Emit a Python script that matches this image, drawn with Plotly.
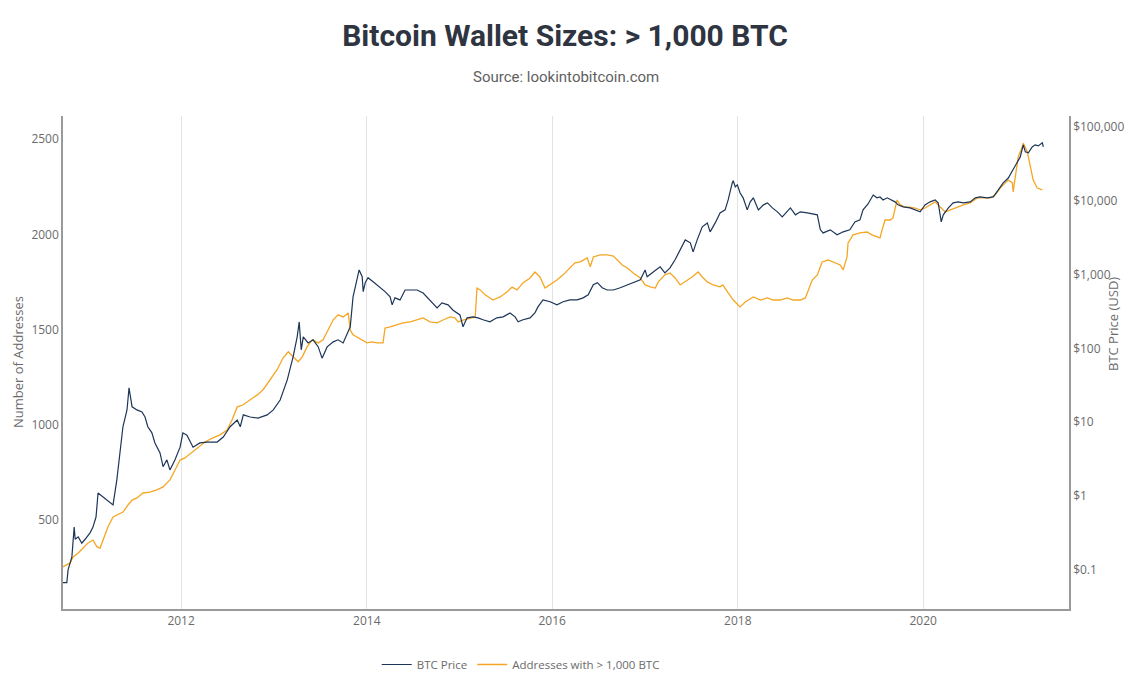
import plotly.graph_objects as go

# BTC price (USD)
price_dates = [
    "2010-09-19", "2010-10-08", "2010-10-13", "2010-10-28", "2010-11-06", "2010-11-10", "2010-11-22",
    "2010-12-06", "2010-12-19", "2011-01-08", "2011-01-19", "2011-01-31", "2011-02-08", "2011-02-27",
    "2011-03-27", "2011-04-08", "2011-04-23", "2011-05-05", "2011-05-17", "2011-06-02", "2011-06-10",
    "2011-06-22", "2011-07-11", "2011-07-31", "2011-08-12", "2011-08-23", "2011-09-08", "2011-09-20",
    "2011-10-10", "2011-10-22", "2011-11-06", "2011-11-18", "2011-12-08", "2011-12-28", "2012-01-08",
    "2012-01-24", "2012-02-17", "2012-03-15", "2012-04-12", "2012-05-22", "2012-06-15", "2012-07-12",
    "2012-08-09", "2012-08-21", "2012-09-02", "2012-09-29", "2012-10-30", "2012-12-05", "2012-12-29",
    "2013-01-25", "2013-02-22", "2013-03-17", "2013-04-02", "2013-04-10", "2013-04-18", "2013-04-26",
    "2013-05-15", "2013-06-04", "2013-06-24", "2013-07-09", "2013-07-29", "2013-08-22", "2013-09-10",
    "2013-09-30", "2013-10-16", "2013-10-28", "2013-11-08", "2013-11-24", "2013-12-02", "2013-12-14",
    "2013-12-18", "2013-12-26", "2014-01-06", "2014-01-26", "2014-02-23", "2014-03-14", "2014-04-03",
    "2014-04-11", "2014-04-22", "2014-05-12", "2014-06-01", "2014-06-21", "2014-07-18", "2014-08-11",
    "2014-09-07", "2014-10-05", "2014-10-24", "2014-11-17", "2014-12-07", "2015-01-03", "2015-01-15",
    "2015-01-31", "2015-02-23", "2015-03-15", "2015-04-04", "2015-05-01", "2015-05-28", "2015-06-22",
    "2015-07-19", "2015-08-08", "2015-08-20", "2015-09-08", "2015-10-06", "2015-10-25", "2015-11-06",
    "2015-11-26", "2015-12-24", "2016-01-20", "2016-02-13", "2016-03-11", "2016-04-08", "2016-05-02",
    "2016-05-22", "2016-06-11", "2016-06-27", "2016-07-16", "2016-08-05", "2016-08-29", "2016-09-25",
    "2016-10-23", "2016-11-15", "2016-12-13", "2017-01-01", "2017-01-09", "2017-02-02", "2017-03-01",
    "2017-03-20", "2017-04-09", "2017-04-29", "2017-05-19", "2017-06-08", "2017-06-28", "2017-07-09",
    "2017-07-25", "2017-08-14", "2017-09-03", "2017-09-14", "2017-10-04", "2017-10-23", "2017-11-12",
    "2017-11-24", "2017-12-10", "2017-12-14", "2017-12-22", "2017-12-30", "2018-01-10", "2018-01-22",
    "2018-02-07", "2018-02-19", "2018-03-03", "2018-03-23", "2018-04-12", "2018-04-28", "2018-05-17",
    "2018-06-06", "2018-06-25", "2018-07-15", "2018-07-27", "2018-08-16", "2018-09-04", "2018-10-02",
    "2018-11-10", "2018-11-22", "2018-12-03", "2018-12-31", "2019-01-27", "2019-02-20", "2019-03-18",
    "2019-04-07", "2019-04-27", "2019-05-09", "2019-05-28", "2019-06-18", "2019-07-03", "2019-07-15",
    "2019-07-27", "2019-08-12", "2019-08-31", "2019-09-12", "2019-09-24", "2019-10-14", "2019-11-10",
    "2019-11-30", "2019-12-20", "2020-01-08", "2020-01-28", "2020-02-17", "2020-02-29", "2020-03-12",
    "2020-03-20", "2020-04-09", "2020-04-28", "2020-05-18", "2020-06-07", "2020-07-04", "2020-07-24",
    "2020-08-12", "2020-09-09", "2020-10-03", "2020-10-22", "2020-11-11", "2020-12-01", "2020-12-20",
    "2021-01-05", "2021-01-17", "2021-01-29", "2021-02-06", "2021-02-18", "2021-03-05", "2021-03-17",
    "2021-03-29", "2021-04-14", "2021-04-18",
]
price_usd = [
    0.067, 0.067, 0.10, 0.15, 0.38, 0.26, 0.28,
    0.23, 0.26, 0.32, 0.38, 0.52, 1.10, 0.97,
    0.83, 0.76, 1.66, 3.85, 8.7, 14.7, 29.3,
    16.2, 14.7, 13.8, 11.8, 8.7, 7.2, 5.25,
    3.85, 2.5, 3.1, 2.26, 3.1, 4.6, 7.2,
    6.7, 4.6, 5.25, 5.4, 5.4, 6.3, 8.7,
    10.7, 8.7, 12.6, 11.8, 11.4, 12.6, 14.7,
    20, 37.6, 77, 144, 229, 96, 144,
    119, 131, 105, 74, 105, 123, 131,
    119, 162, 197, 500, 940, 1160, 940,
    590, 780, 910, 800, 665, 590, 500,
    390, 485, 455, 620, 620, 620, 565,
    455, 355, 415, 390, 330, 285, 197,
    260, 268, 260, 245, 230, 260, 268,
    303, 268, 230, 245, 260, 303, 366,
    455, 430, 390, 430, 455, 455, 485,
    535, 730, 780, 665, 620, 620, 665,
    728, 775, 852, 1160, 935, 1090, 1275,
    1060, 1235, 1590, 2170, 2960, 2700, 2040,
    2960, 4450, 5030, 3800, 5030, 6870, 7550,
    10300, 17500, 18700, 15500, 16500, 12800, 11000,
    7550, 9700, 11000, 7550, 8830, 9400, 8030,
    7100, 6060, 7100, 8030, 6460, 7100, 6870,
    6460, 4050, 3680, 4050, 3470, 3810, 4050,
    5190, 5520, 7550, 9000, 12000, 11000, 11300,
    10300, 11000, 10300, 9700, 8830, 8300, 8030,
    7550, 7100, 8830, 9700, 10300, 9400, 5190,
    6460, 8030, 9400, 9700, 9400, 9700, 11000,
    11300, 11000, 11300, 14100, 17500, 20400, 26300,
    33700, 39400, 57400, 46100, 44700, 53800, 57400,
    55600, 61100, 53800,
]

# Number of addresses holding more than 1,000 BTC
addr_dates = [
    "2010-09-22", "2010-10-08", "2010-10-21", "2010-11-02", "2010-11-22", "2010-12-11", "2010-12-31",
    "2011-01-19", "2011-02-04", "2011-02-16", "2011-02-27", "2011-03-19", "2011-04-08", "2011-04-27",
    "2011-05-17", "2011-06-06", "2011-06-22", "2011-07-11", "2011-08-04", "2011-08-31", "2011-09-28",
    "2011-10-22", "2011-11-18", "2011-12-08", "2011-12-28", "2012-01-16", "2012-02-13", "2012-03-07",
    "2012-04-04", "2012-05-05", "2012-06-02", "2012-06-30", "2012-07-20", "2012-08-09", "2012-09-02",
    "2012-09-29", "2012-10-27", "2012-11-19", "2012-12-17", "2013-01-13", "2013-02-06", "2013-02-26",
    "2013-03-17", "2013-04-06", "2013-04-22", "2013-05-11", "2013-05-31", "2013-06-24", "2013-07-13",
    "2013-08-02", "2013-08-22", "2013-09-10", "2013-09-30", "2013-10-20", "2013-10-28", "2013-11-08",
    "2013-11-24", "2013-12-14", "2014-01-02", "2014-01-22", "2014-02-11", "2014-03-06", "2014-03-14",
    "2014-04-03", "2014-04-30", "2014-05-24", "2014-06-21", "2014-07-18", "2014-08-11", "2014-09-07",
    "2014-10-05", "2014-10-28", "2014-11-25", "2014-12-14", "2014-12-27", "2015-01-15", "2015-02-12",
    "2015-03-04", "2015-03-11", "2015-03-24", "2015-04-12", "2015-05-13", "2015-06-10", "2015-07-07",
    "2015-07-27", "2015-08-16", "2015-09-08", "2015-10-06", "2015-10-25", "2015-11-14", "2015-12-04",
    "2015-12-24", "2016-01-20", "2016-02-13", "2016-03-11", "2016-03-31", "2016-04-20", "2016-05-18",
    "2016-05-30", "2016-06-11", "2016-07-08", "2016-08-05", "2016-08-29", "2016-09-13", "2016-10-03",
    "2016-10-23", "2016-11-15", "2016-12-13", "2017-01-01", "2017-01-21", "2017-02-10", "2017-02-22",
    "2017-03-20", "2017-04-09", "2017-04-29", "2017-05-19", "2017-06-08", "2017-07-05", "2017-07-29",
    "2017-08-14", "2017-09-03", "2017-09-26", "2017-10-23", "2017-11-03", "2017-11-24", "2017-12-14",
    "2018-01-10", "2018-01-30", "2018-03-03", "2018-03-31", "2018-04-28", "2018-05-20", "2018-06-17",
    "2018-07-15", "2018-08-07", "2018-09-04", "2018-09-24", "2018-10-05", "2018-10-21", "2018-11-10",
    "2018-11-29", "2018-12-23", "2019-01-19", "2019-02-08", "2019-02-20", "2019-03-07", "2019-03-11",
    "2019-03-31", "2019-04-27", "2019-05-25", "2019-06-13", "2019-07-03", "2019-07-15", "2019-07-23",
    "2019-08-04", "2019-08-23", "2019-09-04", "2019-09-20", "2019-10-02", "2019-10-22", "2019-11-10",
    "2019-11-30", "2019-12-20", "2020-01-08", "2020-01-28", "2020-02-17", "2020-03-08", "2020-03-28",
    "2020-04-17", "2020-05-14", "2020-06-07", "2020-07-04", "2020-08-01", "2020-08-25", "2020-09-21",
    "2020-10-11", "2020-10-30", "2020-11-19", "2020-12-01", "2020-12-17", "2020-12-20", "2020-12-28",
    "2021-01-09", "2021-01-25", "2021-01-29", "2021-02-14", "2021-02-26", "2021-03-09", "2021-03-25",
    "2021-04-14",
]
addr_count = [
    255, 265, 276, 307, 328, 354, 381,
    396, 360, 354, 396, 465, 517, 528,
    543, 580, 606, 617, 643, 648, 659,
    675, 712, 764, 816, 827, 858, 885,
    911, 932, 948, 974, 1027, 1095, 1106,
    1132, 1158, 1185, 1237, 1290, 1353, 1384,
    1358, 1332, 1358, 1410, 1447, 1431, 1447,
    1499, 1552, 1578, 1567, 1588, 1499, 1473,
    1462, 1446, 1431, 1436, 1431, 1431, 1509,
    1515, 1525, 1536, 1541, 1551, 1562, 1541,
    1536, 1551, 1567, 1562, 1541, 1551, 1562,
    1567, 1719, 1709, 1683, 1656, 1672, 1698,
    1724, 1709, 1746, 1772, 1803, 1777, 1719,
    1735, 1761, 1788, 1824, 1851, 1856, 1877,
    1830, 1882, 1893, 1893, 1887, 1866, 1840,
    1824, 1798, 1772, 1735, 1725, 1719, 1751,
    1788, 1798, 1772, 1735, 1751, 1777, 1803,
    1777, 1751, 1735, 1725, 1735, 1693, 1656,
    1620, 1646, 1672, 1656, 1667, 1656, 1656,
    1667, 1656, 1656, 1667, 1709, 1761, 1788,
    1856, 1866, 1851, 1840, 1814, 1882, 1956,
    1998, 2008, 2013, 1998, 1987, 1982, 2024,
    2076, 2076, 2087, 2181, 2155, 2144, 2144,
    2139, 2129, 2139, 2155, 2171, 2144, 2118,
    2129, 2144, 2155, 2166, 2192, 2192, 2192,
    2208, 2244, 2271, 2286, 2271, 2223, 2297,
    2407, 2460, 2480, 2433, 2365, 2286, 2244,
    2234,
]

price_ticks = [0.1, 1, 10, 100, 1000, 10000, 100000]
price_tick_text = ["$0.1", "$1", "$10", "$100", "$1,000", "$10,000", "$100,000"]

BLUE = "#1d3557"
ORANGE = "#f5a623"
TEXT_GREY = "#6b6b6b"
AXIS_FONT = dict(family="Open Sans, DejaVu Sans, sans-serif", size=12, color=TEXT_GREY)

# plot area in pixels (fixed margins, no auto-growth)
L, R, T, B, W, H = 63, 61, 116, 70, 1130, 679
PW, PH = W - L - R, H - T - B

fig = go.Figure()
fig.add_trace(go.Scatter(
    x=price_dates, y=price_usd, name="BTC Price", mode="lines",
    line=dict(color=BLUE, width=1.2), yaxis="y2",
))
fig.add_trace(go.Scatter(
    x=addr_dates, y=addr_count, name="Addresses with > 1,000 BTC", mode="lines",
    line=dict(color=ORANGE, width=1.3), yaxis="y",
))

fig.update_layout(
    width=W, height=H,
    margin=dict(l=L, r=R, t=T, b=B, autoexpand=False),
    paper_bgcolor="white", plot_bgcolor="white",
    title=dict(
        text="<b>Bitcoin Wallet Sizes: > 1,000 BTC</b>",
        font=dict(family="Roboto, sans-serif", size=30, color="#2e3440"),
        x=0.5, xanchor="center", y=1 - 35 / H, yanchor="middle",
    ),
    xaxis=dict(
        type="date", range=["2010-09-23", "2021-07-28"],
        tick0="2012-01-01", dtick="M24", tickformat="%Y",
        showgrid=True, gridcolor="#e3e3e3", gridwidth=1,
        showline=True, linecolor="#9a9a9a", linewidth=1.5,
        zeroline=False, tickfont=AXIS_FONT, ticks="", automargin=False,
    ),
    yaxis=dict(
        range=[34, 2622], dtick=500, tick0=0,
        showgrid=False, zeroline=False,
        showline=True, linecolor="#9a9a9a", linewidth=1.5,
        tickfont=AXIS_FONT, ticks="", automargin=False,
    ),
    yaxis2=dict(
        type="log", range=[-1.53, 5.15], overlaying="y", side="right",
        tickvals=price_ticks, ticktext=price_tick_text,
        showgrid=False, zeroline=False,
        showline=True, linecolor="#9a9a9a", linewidth=1.5,
        tickfont=AXIS_FONT, ticks="", automargin=False,
    ),
    legend=dict(
        orientation="h", x=0.455, xanchor="center",
        yref="container", y=0.0, yanchor="bottom",
        font=dict(family="Open Sans, DejaVu Sans, sans-serif", size=11.5, color=TEXT_GREY),
        bgcolor="rgba(0,0,0,0)", tracegroupgap=0,
    ),
    showlegend=True,
    annotations=[
        dict(
            text="Source: lookintobitcoin.com", xref="paper", yref="paper",
            x=0.5, y=(H - B - 77) / PH, xanchor="center", yanchor="middle", showarrow=False,
            font=dict(family="Roboto, sans-serif", size=15, color="#5f5f5f"),
        ),
        dict(
            text="Number of Addresses", xref="paper", yref="paper", textangle=-90,
            x=(18 - L) / PW, y=(H - B - 362) / PH, xanchor="center", yanchor="middle",
            showarrow=False, font=dict(family="Open Sans, DejaVu Sans, sans-serif", size=13, color=TEXT_GREY),
        ),
        dict(
            text="BTC Price (USD)", xref="paper", yref="paper", textangle=-90,
            x=(1113 - L) / PW, y=(H - B - 324) / PH, xanchor="center", yanchor="middle",
            showarrow=False, font=dict(family="Open Sans, DejaVu Sans, sans-serif", size=13, color=TEXT_GREY),
        ),
    ],
)

fig.write_html("out.html")
